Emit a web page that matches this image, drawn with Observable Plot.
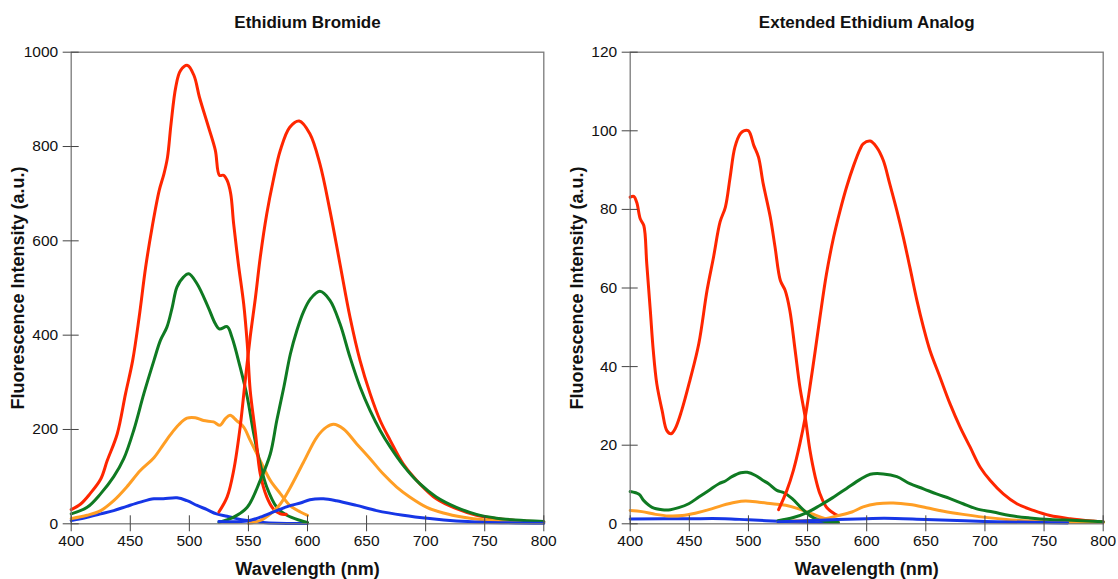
<!DOCTYPE html>
<html><head><meta charset="utf-8">
<script src="https://cdn.jsdelivr.net/npm/d3@7"></script>
<script src="https://cdn.jsdelivr.net/npm/@observablehq/plot@0.6"></script>
<style>
body{margin:0;background:#fff}
#wrap{display:flex;width:1118px;height:579px}
</style>
</head><body><div id="wrap"></div>
<script>
// ---------- tick labels ----------
const xTicks = [400, 450, 500, 550, 600, 650, 700, 750, 800];
const ebYTicks = [0, 200, 400, 600, 800, 1000];
const anYTicks = [0, 20, 40, 60, 80, 100, 120];

// ---------- Ethidium Bromide: [wavelength nm, intensity a.u.] ----------
const ebRedEx = [[400,30],[408,42],[416,64],[425,95],[430.5,134],[439,191],[446,276],[452,346],[457.5,438],[463,544],[468.5,629],[474.5,707],[478.5,742],[481.5,777],[484.5,848],[488.5,926],[492.5,961],[498.5,972],[504,950],[508.5,905],[516,843],[522,792],[525.5,739],[529,739],[532,728],[535,700],[537.5,636],[541.5,551],[546,466],[549,382],[551.5,283],[556,191],[560,106],[565.5,57],[571,32],[577,21],[582,20]];
const ebRedEm = [[525,25],[532,57],[537.5,113],[543,205],[547,297],[551.5,396],[556,481],[560,565],[565.5,657],[571,728],[577,792],[585,841],[593,854],[602,827],[610.5,763],[619,664],[627.5,551],[636,438],[644.5,346],[653,276],[661.5,219],[670,177],[681,127],[695,85],[709,53],[726,32],[743,18],[760,11],[776,7],[800,4]];
const ebGreenEx = [[400,21],[413.5,35],[425,64],[436,100],[444.5,138],[453,199],[461.5,276],[470,346],[475.5,389],[481,417],[485.5,459],[489.5,502],[495,523],[499.5,530],[506.5,509],[516,459],[522,424],[525.5,413],[532,418],[536,396],[543,332],[549,269],[554.5,191],[560,127],[565.5,78],[574,35],[582.5,18],[594,7],[600,3]];
const ebGreenEm = [[525,3],[537.5,14],[549,35],[560,92],[568.5,148],[574,219],[580,290],[585.5,360],[591,410],[596.5,449],[602.5,477],[610.5,493],[619,474],[627.5,424],[636,353],[644.5,290],[653,240],[661.5,198],[670,163],[681,124],[695,85],[709,57],[726,35],[743,20],[760,12],[776,8],[800,5]];
const ebOrangeEx = [[400,11],[413.5,18],[425,28],[436,49],[447,78],[458.5,113],[470,140],[478,168],[484,189],[491,210],[498,224],[505,225],[512,219],[520.5,216],[526,209],[530.5,223],[534.5,230],[540,219],[546,205],[551.5,177],[560,134],[568.5,92],[577,64],[585,39],[594,25],[600,18]];
const ebOrangeEm = [[550,1],[560,7],[570,24],[577,42],[585,75],[596.5,130],[608,184],[616,205],[622,211],[630.5,201],[641.5,170],[653,138],[664,106],[675.5,78],[686.5,57],[701,35],[715,23],[732,14],[749,8.5],[776,5],[800,3]];
const ebBlueEx = [[400,7],[413.5,14],[425,21],[436,28],[447,37],[458.5,46],[470,53],[478,53],[489.5,55],[498,49],[506.5,39],[515,30],[523,21],[532,16],[540,11],[549,7],[560,3.5],[575,1],[600,0.5]];
const ebBlueEm = [[525,5],[549,6],[560,14],[574,28],[586,39],[594,44],[602,51],[613.5,53],[624.5,49],[641.5,39],[658.5,28],[681,18],[703.5,11],[726,6],[748.5,3.5],[800,1]];

// ---------- Extended Ethidium Analog ----------
const anRedEx = [[400,83.1],[403,83.3],[405.5,81.8],[408.5,77.6],[411.5,75.9],[414,66.2],[417,54.3],[419.5,44.1],[422.5,35.6],[427,28.8],[431,23.7],[434.5,22.9],[438,24.2],[443.5,28.8],[450.5,36.5],[458,45.8],[465,59.4],[470.5,67.9],[476,76.8],[480.5,80.6],[484.5,88.2],[488.5,95.8],[493,99.2],[496,100],[500,100],[504.5,96.3],[508.5,93.3],[512.5,86.5],[518.5,78],[522.5,70.4],[527,61.9],[531,59.4],[535,54.3],[539.5,44.1],[543.5,34.8],[548,27.1],[552,18.7],[556.5,11.9],[560.5,7.6],[566,4.2],[573,2.5],[575,2.2]];
const anRedEm = [[525.5,3.6],[532.5,8.5],[538,13.6],[543.5,20.4],[548,27.1],[552,34.8],[556.5,44.1],[560.5,52.6],[566,63.6],[572,72.9],[577.5,79.7],[583,85.7],[589,91.2],[594.5,95.4],[597,96.7],[603,97.4],[608.5,95.8],[614,92.5],[619.5,86.5],[625.5,79.7],[631,72.9],[636.5,65.3],[642.5,56.8],[648,50],[653.5,44.1],[662,37.3],[670.5,30.5],[679,24.6],[687.5,19.5],[696,14.4],[704.5,11],[715.5,7.6],[727,5.1],[741,3.4],[755,2.1],[772,1.3],[791.5,0.7],[800,0.5]];
const anGreenEx = [[400,8.2],[407.5,7.5],[411.5,5.9],[418.5,4.2],[427,3.6],[434,3.6],[441,4.1],[449.5,5.1],[458,6.8],[466.5,8.5],[475,10.2],[480.5,10.9],[486,12],[493.5,13],[499,13.1],[506,12.3],[511.5,11.2],[517,10.2],[524,8.5],[530,7.9],[537,6.4],[545.5,3.8],[554,1.7],[565,0.6],[576,0.3]];
const anGreenEm = [[525,0.8],[538,1.6],[549,2.8],[560,4.6],[571,6.6],[583,9.0],[594.5,11.3],[603,12.6],[614,12.7],[625.5,12],[636.5,10.2],[648,8.9],[659,7.6],[670.5,6.4],[681.5,5.1],[693,3.8],[707,3],[721,2.1],[738,1.5],[755,1.1],[777.5,0.85],[800,0.5]];
const anOrangeEx = [[400,3.4],[410,3.1],[421.5,2.4],[432.5,2.0],[444,2.1],[455,2.7],[466.5,3.6],[478,4.7],[489,5.5],[497.5,5.8],[509,5.5],[520,5.1],[531.5,4.7],[542.5,3.8],[554,2.5],[565,1.3],[576,0.4]];
const anOrangeEm = [[525,0.6],[545,0.8],[559.5,1.0],[576,2.1],[587.5,3],[597,4.3],[608.5,5.1],[622.5,5.3],[636.5,4.9],[650.5,4.1],[665,3.2],[681.5,2.4],[698.5,1.7],[718,1.1],[741,0.7],[769,0.4],[800,0.3]];
const anBlueEx = [[400,1.2],[450,1.3],[480,1.3],[500,1.0],[530,0.6],[550,0.4],[576,0.3]];
const anBlueEm = [[525,0.5],[550,0.8],[575,1.1],[600,1.3],[615,1.4],[650,1.1],[700,0.6],[750,0.3],[770,0.2]];

// ---------- colours ----------
const RED = "#ff2600", GREEN = "#0f7a22", ORANGE = "#ff9e24", BLUE = "#1636e6";

function panel(title, yMax, yTicks, curves, marginRight) {
  const lineMarks = curves.map(([data, color]) =>
    Plot.line(data, {x: d => d[0], y: d => d[1], stroke: color, strokeWidth: 3, curve: "catmull-rom", strokeLinejoin: "round"}));
  return Plot.plot({
    width: 559, height: 579,
    marginTop: 51.7, marginBottom: 55.7, marginLeft: 70.7, marginRight,
    style: {fontFamily: "'Liberation Sans', Arial, Helvetica, sans-serif", fontSize: "15.5px", color: "#111", background: "#fff", overflow: "visible"},
    x: {domain: [400, 800]},
    y: {domain: [0, yMax]},
    marks: [
      ...lineMarks,
      Plot.frame({stroke: "#7a7a7a", strokeWidth: 1.3}),
      Plot.axisX({ticks: xTicks, tickSize: 8, tickPadding: 3, stroke: "#444", label: null, fontSize: 15.5, tickFormat: d => String(d)}),
      Plot.axisX({ticks: xTicks, tickSize: 8, dy: -8, text: null, stroke: "#444", label: null}),
      Plot.axisY({ticks: yTicks, tickSize: 8, tickPadding: 5, stroke: "#444", label: null, fontSize: 15.5, tickFormat: d => String(d)}),
      Plot.axisY({ticks: yTicks, tickSize: 8, dx: 8, text: null, stroke: "#444", label: null}),
      Plot.text([title], {frameAnchor: "top", lineAnchor: "middle", dy: -29.7, fontWeight: "bold", fontSize: 17, fill: "#111"}),
      Plot.text(["Wavelength (nm)"], {frameAnchor: "bottom", lineAnchor: "middle", dy: 45.7, fontWeight: "bold", fontSize: 18, fill: "#111"}),
      Plot.text(["Fluorescence Intensity (a.u.)"], {frameAnchor: "left", textAnchor: "middle", lineAnchor: "middle", rotate: -90, dx: -52.5, fontWeight: "bold", fontSize: 18, fill: "#111"})
    ]
  });
}

const wrap = document.getElementById("wrap");
wrap.append(panel("Ethidium Bromide", 1000, ebYTicks, [
  [ebBlueEx, BLUE], [ebOrangeEx, ORANGE], [ebGreenEx, GREEN], [ebRedEx, RED],
  [ebRedEm, RED], [ebOrangeEm, ORANGE], [ebGreenEm, GREEN], [ebBlueEm, BLUE]
], 15.7));
wrap.append(panel("Extended Ethidium Analog", 120, anYTicks, [
  [anBlueEx, BLUE], [anOrangeEx, ORANGE], [anGreenEx, GREEN], [anRedEx, RED],
  [anRedEm, RED], [anOrangeEm, ORANGE], [anGreenEm, GREEN], [anBlueEm, BLUE]
], 15.3));
</script>
</body></html>
